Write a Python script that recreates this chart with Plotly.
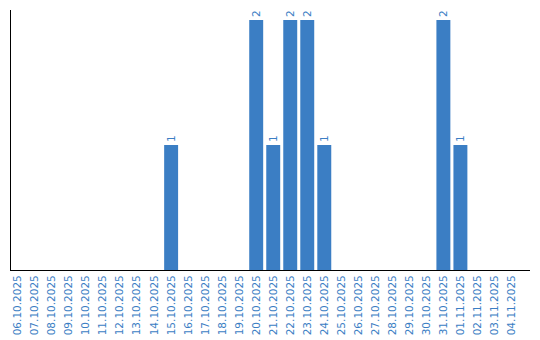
import plotly.graph_objects as go

dates = ["06.10.2025","07.10.2025","08.10.2025","09.10.2025","10.10.2025","11.10.2025",
         "12.10.2025","13.10.2025","14.10.2025","15.10.2025","16.10.2025","17.10.2025",
         "18.10.2025","19.10.2025","20.10.2025","21.10.2025","22.10.2025","23.10.2025",
         "24.10.2025","25.10.2025","26.10.2025","27.10.2025","28.10.2025","29.10.2025",
         "30.10.2025","31.10.2025","01.11.2025","02.11.2025","03.11.2025","04.11.2025"]
counts = [0,0,0,0,0,0,0,0,0,1,0,0,0,0,2,1,2,2,1,0,0,0,0,0,0,2,1,0,0,0]

blue = "#3b7ec4"
texts = [str(v) if v > 0 else "" for v in counts]

fig = go.Figure(go.Bar(
    x=list(range(len(dates))), y=counts, marker_color=blue, marker_line_width=0,
    text=texts, textposition="outside", textangle=-90,
    textfont=dict(family="DejaVu Sans", size=10.5, color=blue),
    cliponaxis=False,
))
fig.update_layout(
    width=540, height=340,
    margin=dict(l=11, r=10, t=10, b=70, autoexpand=False),
    paper_bgcolor="white", plot_bgcolor="white",
    bargap=0.18, showlegend=False,
    xaxis=dict(tickmode="array", tickvals=list(range(len(dates))), ticktext=dates,
               range=[-0.41, 30.09], tickangle=-90, showgrid=False, zeroline=False,
               showline=True, linecolor="black", linewidth=1, ticks="", automargin=False,
               tickfont=dict(family="DejaVu Sans", size=10.5, color=blue)),
    yaxis=dict(range=[0, 2.08], showgrid=False, zeroline=False, showticklabels=False,
               showline=True, linecolor="black", linewidth=1, ticks="", automargin=False),
)
fig.write_html("out.html")
